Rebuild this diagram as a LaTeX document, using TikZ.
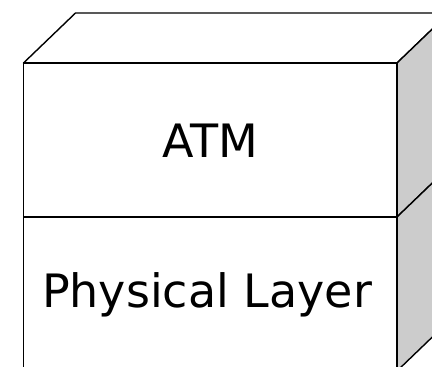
\documentclass[tikz,border=0pt]{standalone}
\usepackage{fontspec}
\setmainfont{DejaVu Sans}
\begin{document}
\begin{tikzpicture}[x=1pt,y=-1pt,
  edge/.style={line width=1.4pt, line join=round},
  face/.style={edge, fill=white},
  side/.style={edge, fill=black!20},
  lbl/.style={font=\fontsize{46}{50}\selectfont, inner sep=0pt, anchor=center}]
\useasboundingbox (0,0) rectangle (432,367);
\begin{scope}
\clip (0,0) rectangle (432,367);
% coordinates
\coordinate (ftl) at (23.5,63);
\coordinate (ftr) at (397,63);
\coordinate (fml) at (23.5,217);
\coordinate (fmr) at (397,217);
\coordinate (fbl) at (23.5,371);
\coordinate (fbr) at (397,371);
\coordinate (btl) at (75.5,13);
\coordinate (btr) at (449,13);
\coordinate (bmr) at (449,167);
\coordinate (bbr) at (449,321);
% top face
\draw[face] (ftl) -- (btl) -- (btr) -- (ftr) -- cycle;
% right side faces
\draw[side] (ftr) -- (btr) -- (bmr) -- (fmr) -- cycle;
\draw[side] (fmr) -- (bmr) -- (bbr) -- (fbr) -- cycle;
% front faces
\draw[face] (ftl) rectangle (fmr);
\draw[face] (fml) rectangle (fbr);
\end{scope}
\node[lbl] (atm) at (210,141) {ATM};
\node[lbl] (phy) at (207,295) {Physical Layer};
\end{tikzpicture}
\end{document}
